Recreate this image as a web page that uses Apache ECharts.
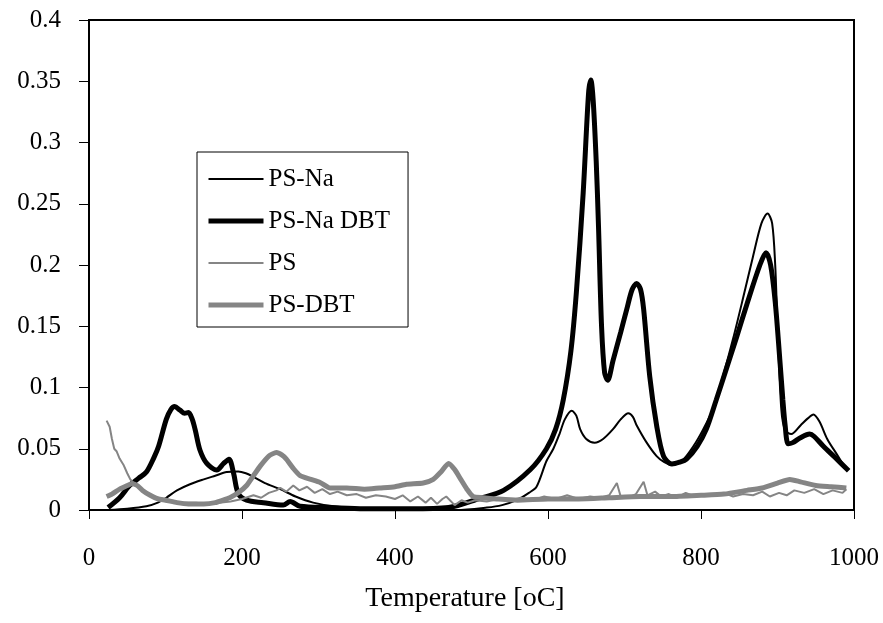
<!DOCTYPE html>
<html>
<head>
<meta charset="utf-8">
<script src="https://cdn.jsdelivr.net/npm/echarts@6/dist/echarts.min.js"></script>
<style>
  html, body { margin: 0; padding: 0; background: #fff; }
  #chart { width: 883px; height: 623px; }
</style>
</head>
<body>
<div id="chart"></div>
<script>
// temperatures (oC) and signal, one pair of arrays per curve
const psNaT = [25, 50, 75, 90, 101, 115, 132, 150, 165, 180, 195, 205, 215, 230, 250, 270, 293, 320, 360, 420, 480, 520, 540, 559, 575, 585, 598, 607, 615, 622, 631, 637, 642, 650, 661, 672, 685, 695, 705, 711, 716, 729, 742, 752, 762, 775, 790, 803, 816, 829, 842, 855, 868, 879, 887, 893, 897, 900, 905, 910, 918, 930, 940, 947, 955, 965, 978, 990]
const psNaV = [0.000, 0.001, 0.003, 0.006, 0.010, 0.016, 0.021, 0.025, 0.028, 0.031, 0.0315, 0.030, 0.027, 0.022, 0.017, 0.011, 0.006, 0.003, 0.001, 0.000, 0.000, 0.002, 0.004, 0.008, 0.014, 0.019, 0.040, 0.050, 0.062, 0.074, 0.081, 0.077, 0.066, 0.058, 0.055, 0.058, 0.066, 0.074, 0.079, 0.076, 0.069, 0.055, 0.044, 0.039, 0.037, 0.040, 0.052, 0.066, 0.083, 0.110, 0.140, 0.173, 0.207, 0.234, 0.242, 0.234, 0.200, 0.150, 0.082, 0.065, 0.062, 0.069, 0.075, 0.078, 0.072, 0.058, 0.045, 0.033]

const psNaDbtT = [25, 40, 53, 65, 75, 85, 91, 101, 107, 112, 119, 125, 130, 135, 139, 145, 154, 167, 176, 183, 189, 195, 206, 228, 254, 263, 276, 315, 360, 420, 470, 511, 542, 577, 598, 610, 620, 630, 637, 646, 653, 656, 659, 663, 666, 670, 674, 678, 685, 695, 703, 710, 716, 721, 725, 733, 742, 751, 762, 772, 781, 795, 807, 820, 833, 846, 860, 877, 885, 891, 897, 903, 907, 910, 914, 920, 930, 942, 948, 960, 975, 993]
const psNaDbtV = [0.002, 0.010, 0.020, 0.026, 0.031, 0.043, 0.052, 0.074, 0.082, 0.0845, 0.0815, 0.079, 0.0795, 0.074, 0.065, 0.049, 0.038, 0.0326, 0.038, 0.0415, 0.030, 0.0136, 0.008, 0.006, 0.004, 0.007, 0.003, 0.002, 0.001, 0.001, 0.002, 0.0095, 0.016, 0.033, 0.050, 0.066, 0.090, 0.130, 0.177, 0.259, 0.340, 0.351, 0.335, 0.285, 0.232, 0.150, 0.112, 0.106, 0.122, 0.145, 0.164, 0.180, 0.185, 0.180, 0.164, 0.109, 0.069, 0.044, 0.0375, 0.039, 0.0415, 0.052, 0.066, 0.090, 0.115, 0.140, 0.168, 0.200, 0.210, 0.200, 0.170, 0.123, 0.090, 0.069, 0.054, 0.055, 0.059, 0.062, 0.060, 0.052, 0.043, 0.032]

const psT = [23, 27, 30, 33, 36, 40, 45, 50, 54, 60, 67, 75, 85, 97, 110, 125, 140, 155, 170, 185, 200, 215, 225, 235, 245, 250, 258, 267, 275, 285, 295, 305, 315, 325, 337, 350, 362, 375, 388, 400, 410, 420, 430, 440, 447, 455, 462, 467, 478, 487, 495, 505, 520, 535, 550, 565, 580, 595, 610, 625, 640, 655, 668, 680, 690, 695, 705, 715, 725, 730, 740, 748, 758, 768, 780, 792, 805, 818, 830, 842, 855, 868, 880, 890, 902, 912, 922, 935, 948, 960, 972, 985, 990]
const psV = [0.073, 0.068, 0.058, 0.050, 0.048, 0.042, 0.037, 0.030, 0.025, 0.021, 0.017, 0.013, 0.011, 0.009, 0.007, 0.006, 0.006, 0.005, 0.006, 0.007, 0.009, 0.012, 0.010, 0.014, 0.016, 0.018, 0.015, 0.020, 0.016, 0.019, 0.014, 0.017, 0.013, 0.015, 0.012, 0.013, 0.010, 0.012, 0.011, 0.009, 0.012, 0.007, 0.011, 0.006, 0.010, 0.005, 0.009, 0.011, 0.004, 0.008, 0.006, 0.008, 0.007, 0.009, 0.008, 0.010, 0.008, 0.011, 0.009, 0.012, 0.009, 0.011, 0.010, 0.012, 0.022, 0.011, 0.010, 0.013, 0.023, 0.012, 0.015, 0.011, 0.013, 0.010, 0.014, 0.011, 0.013, 0.012, 0.014, 0.011, 0.013, 0.012, 0.015, 0.011, 0.014, 0.012, 0.016, 0.014, 0.017, 0.013, 0.016, 0.014, 0.017]

const psDbtT = [23, 30, 40, 50, 56, 63, 70, 80, 90, 100, 115, 130, 150, 165, 175, 184, 195, 206, 215, 224, 235, 245, 252, 258, 267, 276, 290, 302, 315, 337, 360, 380, 400, 415, 437, 450, 460, 470, 478, 486, 494, 502, 515, 533, 560, 600, 640, 680, 720, 760, 800, 830, 860, 880, 900, 916, 930, 950, 970, 990]
const psDbtV = [0.011, 0.013, 0.017, 0.020, 0.0215, 0.020, 0.016, 0.012, 0.009, 0.008, 0.006, 0.005, 0.005, 0.006, 0.008, 0.010, 0.014, 0.020, 0.028, 0.036, 0.044, 0.047, 0.045, 0.0415, 0.034, 0.028, 0.025, 0.0225, 0.018, 0.018, 0.017, 0.018, 0.019, 0.021, 0.022, 0.025, 0.031, 0.038, 0.033, 0.025, 0.017, 0.011, 0.010, 0.009, 0.008, 0.009, 0.009, 0.010, 0.011, 0.011, 0.012, 0.013, 0.016, 0.018, 0.022, 0.025, 0.023, 0.020, 0.019, 0.018]

const xTicks = [0, 200, 400, 600, 800, 1000]
const yTicks = [0, 0.05, 0.1, 0.15, 0.2, 0.25, 0.3, 0.35, 0.4]

const font = 'Liberation Serif'
const gray = '#858585'

const pairs = (t, v) => t.map((x, i) => [x, v[i]])

const chart = echarts.init(document.getElementById('chart'))
chart.setOption({
  animation: false,
  backgroundColor: '#fff',
  grid: {
    left: 89,
    right: 29,
    top: 20,
    bottom: 113,
    show: true,
    borderColor: '#000',
    borderWidth: 2,
  },
  legend: {
    orient: 'vertical',
    left: 197,
    top: 152,
    padding: [12, 18, 7, 9],
    itemGap: 12,
    itemWidth: 55,
    itemHeight: 14,
    borderColor: '#000',
    borderWidth: 1,
    itemStyle: { opacity: 0 }, // hide the circle, keep only the line sample
    textStyle: { fontFamily: font, fontSize: 25, color: '#000', lineHeight: 30 },
    data: [
      { name: 'PS-Na', lineStyle: { width: 2 } },
      { name: 'PS-Na DBT', lineStyle: { width: 5 } },
      { name: 'PS', lineStyle: { width: 2 } },
      { name: 'PS-DBT', lineStyle: { width: 5 } },
    ],
  },
  xAxis: {
    type: 'value',
    min: xTicks[0],
    max: xTicks[xTicks.length - 1],
    interval: 200,
    name: 'Temperature [oC]',
    nameLocation: 'middle',
    nameGap: 75,
    nameTextStyle: { fontFamily: font, fontSize: 28, color: '#000', padding: [0, 13, 0, 0] },
    axisLine: { lineStyle: { color: '#000', width: 2 } },
    axisTick: { length: 9, lineStyle: { color: '#000' } },
    axisLabel: { fontFamily: font, fontSize: 25, color: '#000', margin: 36, formatter: (v) => String(v) },
    splitLine: { show: false },
  },
  yAxis: {
    type: 'value',
    min: yTicks[0],
    max: yTicks[yTicks.length - 1],
    interval: 0.05,
    axisLine: { show: true, lineStyle: { color: '#000', width: 2 } },
    axisTick: { show: true, length: 10, lineStyle: { color: '#000' } },
    axisLabel: { fontFamily: font, fontSize: 25, color: '#000', margin: 28 },
    splitLine: { show: false },
  },
  series: [
    {
      name: 'PS-Na',
      type: 'line',
      symbol: 'none',
      smooth: 0.3,
      lineStyle: { color: '#000', width: 2 },
      itemStyle: { color: '#000' },
      data: pairs(psNaT, psNaV),
    },
    {
      name: 'PS-Na DBT',
      type: 'line',
      symbol: 'none',
      smooth: 0.3,
      lineStyle: { color: '#000', width: 5 },
      itemStyle: { color: '#000' },
      data: pairs(psNaDbtT, psNaDbtV),
    },
    {
      name: 'PS',
      type: 'line',
      symbol: 'none',
      lineStyle: { color: gray, width: 2 },
      itemStyle: { color: gray },
      data: pairs(psT, psV),
    },
    {
      name: 'PS-DBT',
      type: 'line',
      symbol: 'none',
      smooth: 0.2,
      lineStyle: { color: gray, width: 5 },
      itemStyle: { color: gray },
      data: pairs(psDbtT, psDbtV),
    },
  ],
})
</script>
</body>
</html>
